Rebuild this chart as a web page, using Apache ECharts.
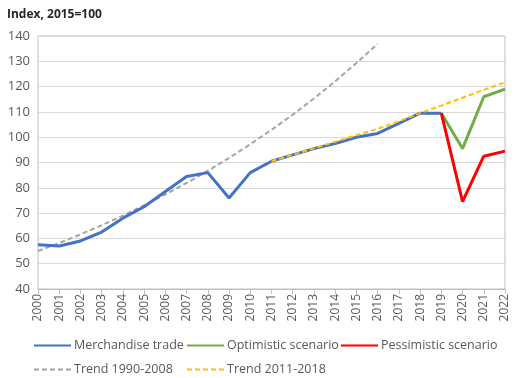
<!DOCTYPE html>
<html><head><meta charset="utf-8">
<script src="https://cdn.jsdelivr.net/npm/echarts@6/dist/echarts.min.js"></script>
<style>html,body{margin:0;padding:0;background:#fff}#c{width:515px;height:378px}</style>
</head><body><div id="c"></div>
<script>
var years = ['2000','2001','2002','2003','2004','2005','2006','2007','2008','2009','2010','2011','2012','2013','2014','2015','2016','2017','2018','2019','2020','2021','2022'];
var merchandise = [57.5,57,59,62.5,68,72.5,78.5,84.5,86,76,86,90.5,93,95.5,97.5,100,101.5,105.5,109.5,109.5,null,null,null];
var optimistic = [null,null,null,null,null,null,null,null,null,null,null,null,null,null,null,null,null,null,null,109.5,95.5,116,119];
var pessimistic = [null,null,null,null,null,null,null,null,null,null,null,null,null,null,null,null,null,null,null,109.5,74.5,92.5,94.5];
var trend9008 = [55,58.2,61.6,65.2,69,73.1,77.4,81.9,86.7,91.8,97.2,102.9,108.9,115.3,122.1,129.3,136.9,null,null,null,null,null,null];
var trend1118 = [null,null,null,null,null,null,null,null,null,null,null,90.5,93,95.6,98.2,100.8,103.3,106.3,109.5,112.5,115.6,118.7,121.7];
var yTicks = {min:40, max:140, interval:10};

var font = '"Open Sans", "Noto Sans", sans-serif';
var txt = '#595959';
function lg(name, left, top){
  return {data:[name], left:left, top:top, itemWidth:37, itemHeight:10, itemGap:0,
    itemStyle:{opacity:0},
    textStyle:{color:txt, fontSize:12.5, fontFamily:font, padding:[0,0,0,-2]}, padding:0};
}
var chart = echarts.init(document.getElementById('c'), null, {renderer:'canvas'});
chart.setOption({
  animation:false,
  title:{text:'Index, 2015=100', left:2, top:4, textStyle:{fontSize:12, fontWeight:'bold', color:'#262626', fontFamily:font}},
  grid:{left:38, right:10, top:36, bottom:89, show:true, borderColor:'#BFBFBF', borderWidth:1},
  legend:[lg('Merchandise trade',33,339), lg('Optimistic scenario',186,339), lg('Pessimistic scenario',340,339),
          lg('Trend 1990-2008',33,363), lg('Trend 2011-2018',186,363)],
  xAxis:{type:'category', data:years, boundaryGap:false,
    axisLine:{lineStyle:{color:'#BFBFBF'}},
    axisTick:{show:true, length:5, lineStyle:{color:'#BFBFBF'}},
    axisLabel:{rotate:90, color:txt, fontSize:12, fontFamily:font, interval:0, margin:5}},
  yAxis:{type:'value', min:yTicks.min, max:yTicks.max, interval:yTicks.interval,
    axisLine:{show:false}, axisTick:{show:false},
    splitLine:{lineStyle:{color:'#D9D9D9'}},
    axisLabel:{color:txt, fontSize:13, fontFamily:font, margin:8}},
  series:[
    {name:'Trend 1990-2008', type:'line', data:trend9008, symbol:'none', z:1,
      lineStyle:{color:'#A5A5A5', width:2, type:[5,3]}, itemStyle:{color:'#A5A5A5'}},
    {name:'Merchandise trade', type:'line', data:merchandise, symbol:'none', z:2,
      lineStyle:{color:'#4472C4', width:3}, itemStyle:{color:'#4472C4'}},
    {name:'Optimistic scenario', type:'line', data:optimistic, symbol:'none', z:2,
      lineStyle:{color:'#70AD47', width:3}, itemStyle:{color:'#70AD47'}},
    {name:'Pessimistic scenario', type:'line', data:pessimistic, symbol:'none', z:2,
      lineStyle:{color:'#FF0000', width:3}, itemStyle:{color:'#FF0000'}},
    {name:'Trend 2011-2018', type:'line', data:trend1118, symbol:'none', z:3,
      lineStyle:{color:'#FFC000', width:2, type:[5,3]}, itemStyle:{color:'#FFC000'}}
  ]
});
</script></body></html>
